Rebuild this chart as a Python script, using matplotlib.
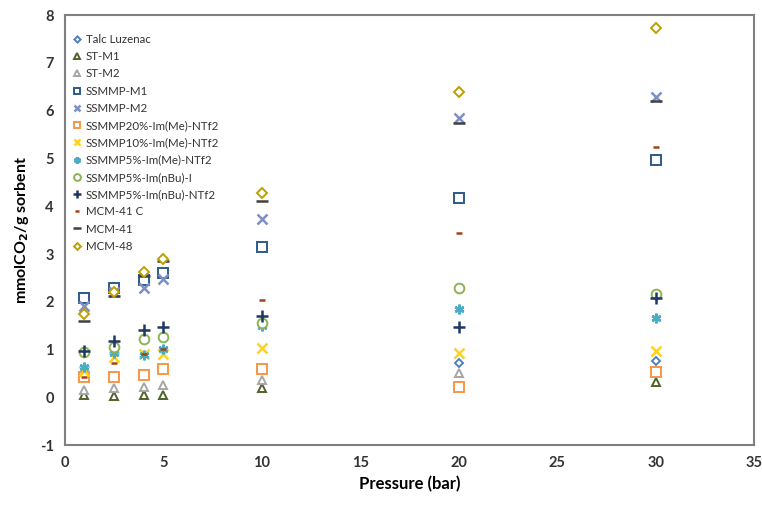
import matplotlib
matplotlib.use("Agg")
import matplotlib.pyplot as plt

plt.rcParams['font.family'] = ['Lato', 'DejaVu Sans']
plt.rcParams['axes.unicode_minus'] = False

# pressures (bar)
p_all = [1, 2.5, 4, 5, 10, 20, 30]
p_hi = [20, 30]

# uptake, mmol CO2 / g sorbent
talc_luzenac = [0.73, 0.77]
st_m1 = [0.05, 0.03, 0.05, 0.05, 0.19, None, 0.32]
st_m2 = [0.15, 0.19, 0.22, 0.25, 0.36, 0.50, 0.55]
ssmmp_m1 = [2.07, 2.30, 2.45, 2.60, 3.14, 4.18, 4.96]
ssmmp_m2 = [1.92, 2.20, 2.30, 2.48, 3.74, 5.84, 6.28]
ssmmp20_me = [0.42, 0.42, 0.46, 0.60, 0.60, 0.21, 0.53]
ssmmp10_me = [0.55, 0.85, 0.90, 0.90, 1.03, 0.92, 0.98]
ssmmp5_me = [0.63, 0.92, 0.88, 1.02, 1.50, 1.86, 1.67]
ssmmp5_nbu_i = [0.95, 1.05, 1.23, 1.26, 1.55, 2.28, 2.17]
ssmmp5_nbu_ntf2 = [0.98, 1.19, 1.40, 1.47, 1.71, 1.47, 2.07]
mcm41_c = [0.42, 0.71, 0.90, 1.02, 2.03, 3.45, 5.25]
mcm41 = [1.60, 2.12, 2.55, 2.85, 4.12, 5.75, 6.20]
mcm48 = [1.75, 2.20, 2.62, 2.90, 4.27, 6.40, 7.74]

series = [
    ("Talc Luzenac", p_hi, talc_luzenac, "D", "#4F81BD", True, 4.5),
    ("ST-M1", p_all, st_m1, "^", "#4F6228", True, 6),
    ("ST-M2", p_all, st_m2, "^", "#A6A6A6", True, 6),
    ("SSMMP-M1", p_all, ssmmp_m1, "s", "#2C5A8C", True, 7),
    ("SSMMP-M2", p_all, ssmmp_m2, "x", "#7F8FC4", False, 7),
    ("SSMMP20%-Im(Me)-NTf2", p_all, ssmmp20_me, "s", "#F79646", True, 7),
    ("SSMMP10%-Im(Me)-NTf2", p_all, ssmmp10_me, "x", "#FFD21F", False, 7),
    ("SSMMP5%-Im(Me)-NTf2", p_all, ssmmp5_me, (6, 2, 0), "#4BACC6", False, 7),
    ("SSMMP5%-Im(nBu)-I", p_all, ssmmp5_nbu_i, "o", "#8DB354", True, 7),
    ("SSMMP5%-Im(nBu)-NTf2", p_all, ssmmp5_nbu_ntf2, "+", "#1F3864", False, 8),
    ("MCM-41 C", p_all, mcm41_c, "_", "#A0421A", False, 5),
    ("MCM-41", p_all, mcm41, "_", "#404040", False, 8),
    ("MCM-48", p_all, mcm48, "D", "#BF9F00", True, 5),
]

fig = plt.figure(figsize=(7.62, 5.07), dpi=100)
ax = fig.add_axes([0.085, 0.122, 0.905, 0.848])

for label, xs, ys, mk, col, hollow, ms in series:
    pts = [(x, y) for x, y in zip(xs, ys) if y is not None]
    xx = [a for a, b in pts]
    yy = [b for a, b in pts]
    if hollow:
        ax.plot(xx, yy, linestyle="none", marker=mk, markersize=ms,
                markerfacecolor="white", markeredgecolor=col,
                markeredgewidth=1.4, label=label)
    else:
        ax.plot(xx, yy, linestyle="none", marker=mk, markersize=ms,
                color=col, markeredgewidth=1.8, label=label)

ax.set_xlim(0, 35)
ax.set_ylim(-1, 8)
ax.set_xticks(range(0, 36, 5))
ax.set_yticks(range(-1, 9))
ax.tick_params(length=0, labelsize=10.5, pad=8)
for t in ax.get_xticklabels() + ax.get_yticklabels():
    t.set_fontweight("bold")
    t.set_color("#333333")
for s in ax.spines.values():
    s.set_color("#808080")
    s.set_linewidth(1.5)

ax.set_xlabel("Pressure (bar)", fontsize=12, fontweight="bold", labelpad=4)
ax.set_ylabel("mmolCO$_\\mathbf{2}$/g sorbent", fontsize=11.5, fontweight="bold", labelpad=6)

leg = ax.legend(loc="upper left", bbox_to_anchor=(0.0, 0.975), frameon=False,
                fontsize=8.3, labelspacing=0.54, handlelength=0.8,
                handletextpad=0.3, borderaxespad=0.3, markerscale=0.7)
for t in leg.get_texts():
    t.set_color("#333333")

fig.savefig("out.png", dpi=100)
